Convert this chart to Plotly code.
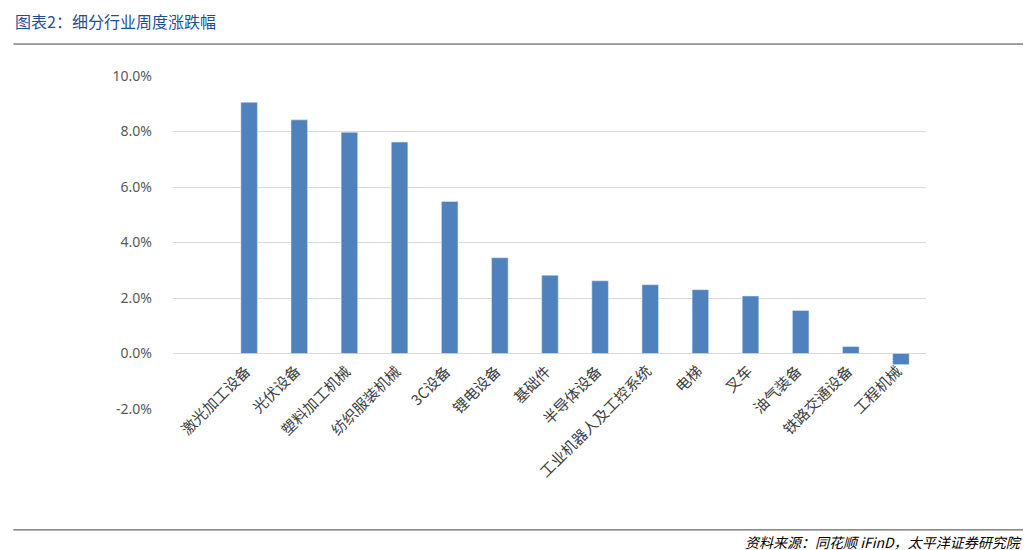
import plotly.graph_objects as go

categories = ["激光加工设备", "光伏设备", "塑料加工机械", "纺织服装机械", "3C设备", "锂电设备", "基础件",
              "半导体设备", "工业机器人及工控系统", "电梯", "叉车", "油气装备", "铁路交通设备", "工程机械"]
changes = [9.05, 8.42, 7.97, 7.62, 5.48, 3.45, 2.82, 2.62, 2.48, 2.30, 2.07, 1.55, 0.25, -0.40]
tick_vals = [-2, 0, 2, 4, 6, 8, 10]
tick_text = ["-2.0%", "0.0%", "2.0%", "4.0%", "6.0%", "8.0%", "10.0%"]

font_cn = "Noto Sans CJK SC"

fig = go.Figure(go.Bar(x=categories, y=changes, marker_color="#4f81bd", width=0.33))

# category labels sit at the zero line, rotated like Excel does
for c in categories:
    fig.add_annotation(x=c, y=0, text=c, textangle=-45, showarrow=False,
                       xanchor="right", yanchor="top", xshift=8, yshift=-4,
                       font=dict(family=font_cn, size=15, color="#404040"))

fig.add_annotation(x=-0.212, y=1.165, xref="paper", yref="paper", text="图表2：细分行业周度涨跌幅",
                   showarrow=False, xanchor="left", yanchor="middle",
                   font=dict(family=font_cn, size=16, color="#1f4e9a"))
fig.add_annotation(x=1.13, y=-0.40, xref="paper", yref="paper",
                   text="<i>资料来源：同花顺 iFinD，太平洋证券研究院</i>",
                   showarrow=False, xanchor="right", yanchor="middle",
                   font=dict(family=font_cn, size=14, color="#000000"))
fig.add_shape(type="line", xref="paper", yref="paper", x0=-0.212, x1=1.142, y0=1.096, y1=1.096,
              line=dict(color="#404040", width=1))
fig.add_shape(type="line", xref="paper", yref="paper", x0=-0.212, x1=1.142, y0=-0.363, y1=-0.363,
              line=dict(color="#404040", width=1))

fig.update_layout(
    width=1031, height=550, autosize=False,
    margin=dict(l=165, r=113, t=68, b=149, autoexpand=False),
    paper_bgcolor="white", plot_bgcolor="white",
    showlegend=False, bargap=0.6,
    font=dict(family=font_cn),
    xaxis=dict(showticklabels=False, showgrid=False, zeroline=False, showline=False),
    yaxis=dict(range=[-2, 10], tickvals=tick_vals, ticktext=tick_text, showgrid=True,
               gridcolor="#d9d9d9", zeroline=False, showline=False, ticks="",
               tickfont=dict(family="Noto Sans", size=14, color="#595959"), ticklabelstandoff=20),
)

fig.write_html("out.html")
